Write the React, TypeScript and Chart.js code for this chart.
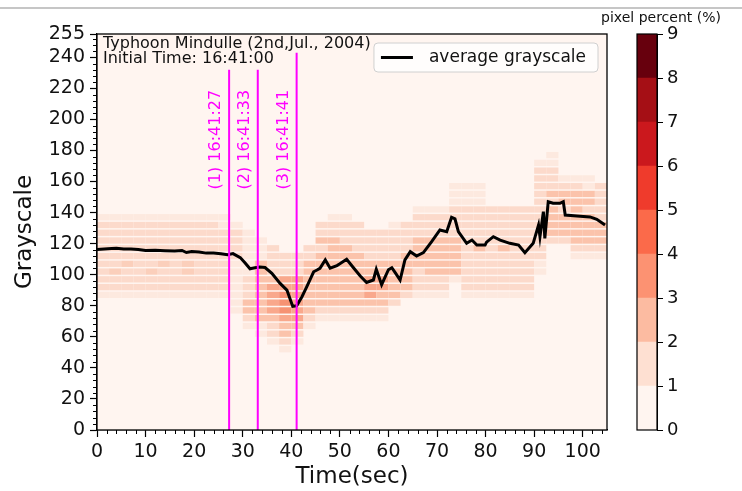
import React, { useEffect, useRef } from "react";
import { Chart, registerables } from "chart.js";

Chart.register(...registerables);

const FONT = "'DejaVu Sans', 'Liberation Sans', sans-serif";

// ---- average grayscale line ----
const timeSec = [0, 1.5, 3, 4, 5.5, 7, 8.5, 10, 12, 14, 16, 17.5, 18.4, 19.5, 21, 22.5, 24, 25.5, 26.9, 28, 29.5, 30.5, 31.5, 32.5, 33.5, 34.6, 36, 37.7, 39.1, 40.3, 41.1, 42.2, 43.2, 44.6, 45.3, 45.9, 47, 48, 49.4, 50, 51.4, 52.8, 54.2, 55.5, 56.9, 57.5, 58.6, 60, 60.7, 61.5, 62.4, 63.4, 64.5, 65.8, 67.2, 68.9, 70.6, 72, 73, 73.7, 74.4, 76.1, 77.2, 78.2, 79.9, 80.2, 81.6, 83, 85, 86.8, 88.1, 89.8, 90.9, 91.2, 91.9, 92.2, 92.9, 93.9, 95.3, 96, 96.4, 98.8, 101.5, 102.9, 104.6];
const avgGray = [116.3, 116.6, 116.8, 117, 116.5, 116.6, 116.2, 115.6, 115.8, 115.5, 115.3, 115.6, 114.3, 115, 114.6, 113.9, 114, 113.5, 112.8, 113.6, 111, 107.5, 103.8, 104.5, 104.9, 104.6, 100.9, 94.4, 90.1, 79.6, 80, 85.8, 92.3, 101.9, 103, 104.1, 109.5, 104.2, 105.9, 107, 109.9, 104.5, 99.2, 95, 96.6, 103.5, 93.6, 103.2, 104.5, 100.8, 96.6, 109.5, 114.8, 112, 114.2, 121.3, 128.8, 127.7, 137, 136, 127.7, 120.2, 122.3, 119.1, 119.1, 121, 124.5, 122.3, 120.2, 119.1, 114.2, 120.2, 132, 124.5, 140.6, 123.4, 147, 146, 146, 147, 138.4, 137.8, 137.2, 135.7, 132];

// ---- event markers ----
const markerTimes = [27.2, 33.1, 41.1];
const markerTops = [232, 232, 243];
const markerLabels = ["(1) 16:41:27", "(2) 16:41:33", "(3) 16:41:41"];
const markerLabelCenter = 187;

// ---- heatmap of pixel percent (columns every 2.5 s, rows of 5 grayscale levels) ----
const heatColWidth = 2.5;
const heatBinHeight = 5;
const heatBins = [175, 170, 165, 160, 155, 150, 145, 140, 135, 130, 125, 120, 115, 110, 105, 100, 95, 90, 85, 80, 75, 70, 65, 60, 55, 50];
const heatRows = [
  ".......... .......... .......... .......a.. ..",
  ".......... .......... .......... ......aa.. ..",
  ".......... .......... .......... ......bb.. ..",
  ".......... .......... .......... ......bbaa a.",
  ".......... .......... .........a aa....bbbb ab",
  ".......... .......... .........a aa....bccc cb",
  ".......... .......... .........a aa....bbcc cb",
  ".......... .......... ......aaab bbbbbbbcbc bb",
  "aaaaaaaaaa a........a a.....bbbb bbbbbbbccc cb",
  "bbbbbbbbbb aa......bb bb..abbbbb bbbbbbbccc cc",
  "bbbbbbbbbb bba.....bb bbbbbbbbbb bbbbbbbccc cc",
  "bbbbbbbbbb bbaa....cc bbbbbbcccc bbbbbbbbbc cc",
  "bbbbbbbbbb bbaab..bbc cbbbbbcccc bcbcbbb..b bb",
  "bbbbbbbbbb bbaabbbbcc ccbbbccccc bbbbbbb..a aa",
  "bbfbbfbfbb baacbbbccc cccccccccc bbbbbba... ..",
  "bfbbfbbfbb baacbbbccc ccccccbccc bbbbbba... ..",
  "bbbbbbbbbb babccddccc ccddccbbba bbbbbb.... ..",
  "bbbbbbbbbb babcdddccc ccddccbbb. bbbbbb.... ..",
  "aaaaaaaaaa aabcdedccc ccdccbaaa. aaaaaa.... ..",
  ".......... .accdedccc ccccb..... .......... ..",
  ".......... .accdedcbb bbbb...... .......... ..",
  ".......... ..bccddbaa aaaa...... .......... ..",
  ".......... ..aabcca.. .......... .......... ..",
  ".......... ...abcb... .......... .......... ..",
  ".......... ....aba... .......... .......... ..",
  ".......... .....a.... .......... .......... ..",
];
const heatColors: Record<string, string> = {
  a: "#fde9df",
  b: "#fcdacb",
  f: "#fbcfbb",
  c: "#fbc3ab",
  d: "#f9a88c",
  e: "#f69273",
};
const heatBackground = "#fff5f0";

// ---- axes ----
const xTickValues = [0, 10, 20, 30, 40, 50, 60, 70, 80, 90, 100];
const yTickValues = [0, 20, 40, 60, 80, 100, 120, 140, 160, 180, 200, 220, 240, 255];
const xMax = 105;
const yMax = 255;

// ---- colorbar ----
const cbLevels = [0, 1, 2, 3, 4, 5, 6, 7, 8, 9];
const cbColors = ["#fff5f0", "#fee0d2", "#fcbba1", "#fc9272", "#fb6a4a", "#ef3b2c", "#cb181d", "#a50f15", "#67000d"];

const annotationLines = ["Typhoon Mindulle (2nd,Jul., 2004)", "Initial Time: 16:41:00"];
const legendLabel = "average grayscale";

export default function App() {
  const mainRef = useRef<HTMLCanvasElement>(null);
  const cbRef = useRef<HTMLCanvasElement>(null);

  useEffect(() => {
    const heatPlugin = {
      id: "heat",
      beforeDatasetsDraw(chart: any) {
        const { ctx, chartArea: a, scales } = chart;
        const xs = scales.x;
        const ys = scales.y;
        ctx.save();
        ctx.beginPath();
        ctx.rect(a.left, a.top, a.right - a.left, a.bottom - a.top);
        ctx.clip();
        ctx.fillStyle = heatBackground;
        ctx.fillRect(a.left, a.top, a.right - a.left, a.bottom - a.top);
        heatRows.forEach((row, r) => {
          const cells = row.replace(/ /g, "");
          const lo = heatBins[r];
          const yTop = ys.getPixelForValue(lo + heatBinHeight);
          const yBot = ys.getPixelForValue(lo);
          for (let c = 0; c < cells.length; c++) {
            const ch = cells[c];
            if (!heatColors[ch]) continue;
            const x0 = xs.getPixelForValue(c * heatColWidth);
            const x1 = xs.getPixelForValue((c + 1) * heatColWidth);
            ctx.fillStyle = heatColors[ch];
            ctx.fillRect(x0, yTop + 1.5, x1 - x0, yBot - yTop - 1.5);
          }
        });
        ctx.restore();
      },
      afterDatasetsDraw(chart: any) {
        const { ctx, scales } = chart;
        const xs = scales.x;
        const ys = scales.y;
        ctx.save();
        ctx.fillStyle = "#ff00ff";
        ctx.font = `16px ${FONT}`;
        ctx.textAlign = "center";
        ctx.textBaseline = "bottom";
        markerTimes.forEach((t, i) => {
          ctx.save();
          ctx.translate(xs.getPixelForValue(t) - 5, ys.getPixelForValue(markerLabelCenter));
          ctx.rotate(-Math.PI / 2);
          ctx.fillText(markerLabels[i], 0, 0);
          ctx.restore();
        });
        ctx.restore();
      },
      afterDraw(chart: any) {
        const { ctx, chartArea: a, scales } = chart;
        const xs = scales.x;
        const ys = scales.y;
        ctx.save();
        // minor ticks
        ctx.strokeStyle = "#000";
        ctx.lineWidth = 1;
        ctx.beginPath();
        for (let v = 0; v <= xMax; v += 2) {
          if (v % 10 === 0) continue;
          const px = Math.round(xs.getPixelForValue(v)) + 0.5;
          ctx.moveTo(px, a.bottom);
          ctx.lineTo(px, a.bottom + 4);
        }
        for (let v = 0; v <= yMax; v += 4) {
          if (v % 20 === 0) continue;
          const py = Math.round(ys.getPixelForValue(v)) + 0.5;
          ctx.moveTo(a.left, py);
          ctx.lineTo(a.left - 4, py);
        }
        ctx.stroke();
        // frame
        ctx.lineWidth = 1.3;
        ctx.strokeRect(a.left, a.top, a.right - a.left, a.bottom - a.top);
        // annotation
        ctx.fillStyle = "#111";
        ctx.font = `16px ${FONT}`;
        ctx.textAlign = "left";
        ctx.textBaseline = "top";
        annotationLines.forEach((s, i) => ctx.fillText(s, a.left + 6, a.top + 2 + i * 14.5));
        // legend
        ctx.font = `17px ${FONT}`;
        const tw = ctx.measureText(legendLabel).width;
        const bw = 7 + 32 + 16 + tw + 12;
        const bh = 29;
        const bx = a.right - 9 - bw;
        const by = a.top + 9;
        ctx.beginPath();
        const rr = 4;
        ctx.moveTo(bx + rr, by);
        ctx.arcTo(bx + bw, by, bx + bw, by + bh, rr);
        ctx.arcTo(bx + bw, by + bh, bx, by + bh, rr);
        ctx.arcTo(bx, by + bh, bx, by, rr);
        ctx.arcTo(bx, by, bx + bw, by, rr);
        ctx.closePath();
        ctx.fillStyle = "rgba(255,255,255,0.8)";
        ctx.fill();
        ctx.strokeStyle = "#d0d0d0";
        ctx.lineWidth = 1;
        ctx.stroke();
        ctx.strokeStyle = "#000";
        ctx.lineWidth = 3;
        ctx.beginPath();
        ctx.moveTo(bx + 7, by + bh / 2);
        ctx.lineTo(bx + 39, by + bh / 2);
        ctx.stroke();
        ctx.fillStyle = "#111";
        ctx.textBaseline = "middle";
        ctx.fillText(legendLabel, bx + 55, by + bh / 2 + 0.5);
        ctx.restore();
      },
    };

    const markerSets = markerTimes.map((t, i) => ({
      label: markerLabels[i],
      data: [
        { x: t, y: 0 },
        { x: t, y: markerTops[i] },
      ],
      borderColor: "#ff00ff",
      borderWidth: 2,
      pointRadius: 0,
    }));

    const main = new Chart(mainRef.current as HTMLCanvasElement, {
      type: "line",
      data: {
        datasets: [
          ...markerSets,
          {
            label: legendLabel,
            data: timeSec.map((t, i) => ({ x: t, y: avgGray[i] })),
            borderColor: "#000",
            borderWidth: 3,
            pointRadius: 0,
            tension: 0,
          },
        ] as any,
      },
      options: {
        animation: false,
        responsive: false,
        devicePixelRatio: 1,
        layout: { padding: { left: 0, top: 34, right: 135, bottom: 0 } },
        plugins: { legend: { display: false }, tooltip: { enabled: false } },
        scales: {
          x: {
            type: "linear",
            min: 0,
            max: xMax,
            afterBuildTicks: (s: any) => {
              s.ticks = xTickValues.map((v) => ({ value: v }));
            },
            afterFit: (s: any) => {
              s.height = 61;
            },
            ticks: { autoSkip: false, maxRotation: 0, color: "#111", padding: 4, font: { size: 19, family: FONT } },
            grid: { drawOnChartArea: false, tickLength: 7, tickColor: "#000", tickWidth: 1.2 },
            border: { color: "#000", width: 1.2 },
            title: { display: true, text: "Time(sec)", color: "#111", padding: { top: 0, bottom: 0 }, font: { size: 23, family: FONT } },
          },
          y: {
            type: "linear",
            min: 0,
            max: yMax,
            afterBuildTicks: (s: any) => {
              s.ticks = yTickValues.map((v) => ({ value: v }));
            },
            afterFit: (s: any) => {
              s.width = 97;
            },
            ticks: { autoSkip: false, color: "#111", padding: 5, font: { size: 19, family: FONT } },
            grid: { drawOnChartArea: false, tickLength: 7, tickColor: "#000", tickWidth: 1.2 },
            border: { color: "#000", width: 1.2 },
            title: { display: true, text: "Grayscale", color: "#111", padding: { top: 11, bottom: 0 }, font: { size: 23, family: FONT } },
          },
        },
      } as any,
      plugins: [heatPlugin],
    });

    const cbPlugin = {
      id: "cbframe",
      afterDraw(chart: any) {
        const { ctx, chartArea: a } = chart;
        ctx.save();
        ctx.strokeStyle = "#000";
        ctx.lineWidth = 1.2;
        ctx.strokeRect(a.left, a.top, a.right - a.left, a.bottom - a.top);
        ctx.fillStyle = "#111";
        ctx.font = `14px ${FONT}`;
        ctx.textAlign = "center";
        ctx.textBaseline = "middle";
        ctx.fillText("pixel percent (%)", 71, 18);
        ctx.restore();
      },
    };

    const cb = new Chart(cbRef.current as HTMLCanvasElement, {
      type: "bar",
      data: {
        labels: ["pct"],
        datasets: cbColors.map((c, i) => ({
          label: `${cbLevels[i]}-${cbLevels[i + 1]}`,
          data: [cbLevels[i + 1] - cbLevels[i]],
          backgroundColor: c,
          borderWidth: 0,
          barPercentage: 1,
          categoryPercentage: 1,
        })),
      },
      options: {
        animation: false,
        responsive: false,
        devicePixelRatio: 1,
        layout: { padding: { left: 47, top: 34, right: 0, bottom: 61 } },
        plugins: { legend: { display: false }, tooltip: { enabled: false } },
        scales: {
          x: { display: false, stacked: true },
          y: {
            stacked: true,
            position: "right",
            min: 0,
            max: 9,
            afterBuildTicks: (s: any) => {
              s.ticks = cbLevels.map((v) => ({ value: v }));
            },
            afterFit: (s: any) => {
              s.width = 85;
            },
            ticks: { autoSkip: false, color: "#111", padding: 4, font: { size: 18, family: FONT } },
            grid: { drawOnChartArea: false, tickLength: 6, tickColor: "#000" },
            border: { color: "#000" },
          },
        },
      } as any,
      plugins: [cbPlugin],
    });

    return () => {
      main.destroy();
      cb.destroy();
    };
  }, []);

  return (
    <div style={{ position: "fixed", left: 0, top: 0, width: 742, height: 491, background: "#fff", overflow: "hidden" }}>
      <div style={{ position: "absolute", left: 0, top: 7, width: 742, height: 1.5, background: "#c6c6c6" }} />
      <canvas ref={mainRef} width={742} height={491} style={{ position: "absolute", left: 0, top: 0, width: 742, height: 491 }} />
      <canvas ref={cbRef} width={152} height={491} style={{ position: "absolute", left: 590, top: 0, width: 152, height: 491 }} />
    </div>
  );
}
